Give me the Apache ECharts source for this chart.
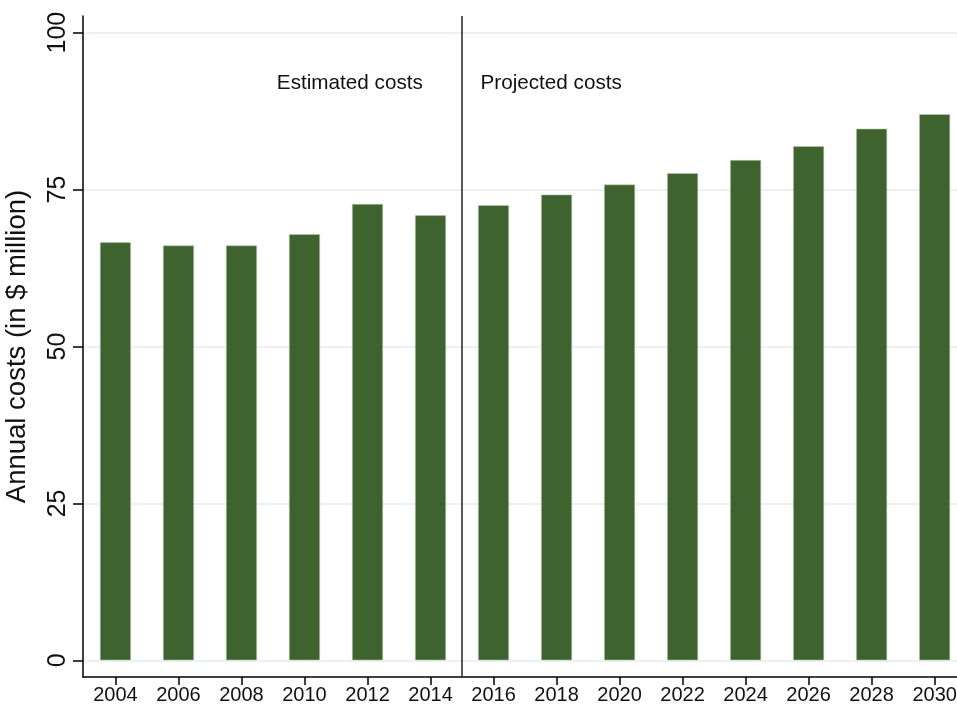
<!DOCTYPE html>
<html>
<head>
<meta charset="utf-8">
<script src="https://cdn.jsdelivr.net/npm/echarts@6/dist/echarts.min.js"></script>
<style>html,body{margin:0;padding:0;background:#fff;}#c{width:957px;height:711px;}</style>
</head>
<body>
<div id="c"></div>
<script>
const years = [2004, 2006, 2008, 2010, 2012, 2014, 2016, 2018, 2020, 2022, 2024, 2026, 2028, 2030];
const costs = [66.6, 66.1, 66.1, 67.9, 72.7, 70.9, 72.5, 74.2, 75.8, 77.6, 79.7, 81.9, 84.7, 87.0];
const yTicks = [0, 25, 50, 75, 100];
const dividerYear = 2015;
const annotations = [
  { text: 'Estimated costs', year: 2011.44, value: 91.9 },
  { text: 'Projected costs', year: 2017.83, value: 91.9 }
];

const font = 'Liberation Sans, Arial, Helvetica, sans-serif';
const chart = echarts.init(document.getElementById('c'), null, { renderer: 'canvas' });
chart.setOption({
  animation: false,
  backgroundColor: '#ffffff',
  grid: { left: 83, right: 0, top: 16, bottom: 34, containLabel: false, outerBoundsMode: 'none' },
  xAxis: {
    type: 'value',
    min: 2002.97,
    max: 2030.71,
    axisLine: { show: true, onZero: false, lineStyle: { color: '#000', width: 1.5 } },
    axisTick: { show: true, length: 8, customValues: years, lineStyle: { color: '#000', width: 1.5 } },
    axisLabel: { show: true, customValues: years, color: '#111', fontFamily: font, fontSize: 20, margin: 8, formatter: v => String(v) },
    splitLine: { show: false }
  },
  yAxis: {
    type: 'value',
    min: -2.65,
    max: 102.65,
    name: 'Annual costs (in $ million)',
    nameLocation: 'middle',
    nameGap: 52,
    nameRotate: 90,
    nameTextStyle: { color: '#111', fontFamily: font, fontSize: 27.5 },
    axisLine: { show: true, onZero: false, lineStyle: { color: '#000', width: 1.5 } },
    axisTick: { show: true, length: 10, customValues: yTicks, lineStyle: { color: '#000', width: 1.5 } },
    axisLabel: { show: true, customValues: yTicks, rotate: 90, color: '#111', fontFamily: font, fontSize: 25, margin: 12 },
    splitLine: { show: true, lineStyle: { color: '#e4ecf0', width: 1.5 } }
  },
  series: [{
    type: 'bar',
    data: years.map((y, i) => [y, costs[i]]),
    barWidth: 31,
    itemStyle: { color: '#3f632e', borderColor: '#b8c6b0', borderWidth: 0.6 },
    markLine: {
      silent: true,
      symbol: 'none',
      label: { show: false },
      lineStyle: { color: '#222', width: 1.5, type: 'solid' },
      data: [{ xAxis: dividerYear }]
    },
    markPoint: {
      silent: true,
      symbol: 'circle',
      symbolSize: 0,
      label: { show: true, position: 'inside', color: '#111', fontFamily: font, fontSize: 20.7, formatter: p => p.name },
      data: annotations.map(a => ({ name: a.text, coord: [a.year, a.value] }))
    }
  }]
});
</script>
</body>
</html>
